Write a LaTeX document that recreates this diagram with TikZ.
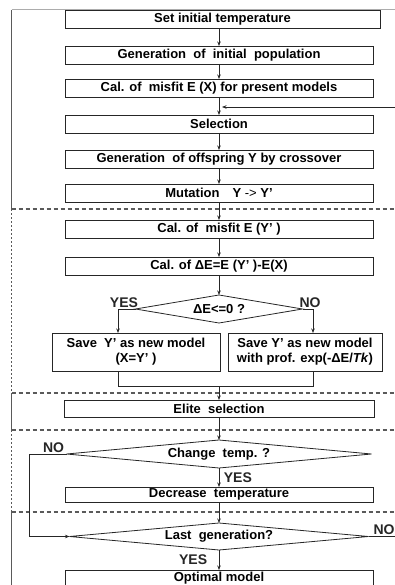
\documentclass[tikz,border=0pt]{standalone}
\usepackage{fontspec}
\setmainfont{Liberation Sans}
\usetikzlibrary{arrows.meta,positioning,shapes.geometric}
\definecolor{fcline}{HTML}{262626}
\definecolor{fcframe}{HTML}{5A5A5A}

\begin{document}
\begin{tikzpicture}[x=1pt,y=1pt,
  proc/.style={draw=fcline,line width=0.9pt,minimum width=308pt,minimum height=18pt,inner sep=0pt,
    outer sep=0pt,align=center,font=\fontsize{13}{15}\selectfont\bfseries},
  query/.style={diamond,draw=fcline,line width=0.8pt,aspect=10,inner sep=0pt,outer sep=0pt,
    minimum height=28pt,font=\fontsize{13}{15}\selectfont\bfseries},
  lbl/.style={font=\fontsize{14}{15}\selectfont\bfseries,inner sep=1.5pt},
  arr/.style={-{Stealth[length=4.5pt,width=3.5pt]},line width=0.7pt,fcline},
  wire/.style={line width=0.7pt,fcline},
  sep/.style={fcframe,line width=1.1pt,dash pattern=on 4pt off 3pt},
  rim/.style={fcframe,line width=1pt}]
  \path[use as bounding box,clip] (0,0) rectangle (395,-585);
  % outer frame and dashed blocks
  \draw[rim,fcframe!50] (11.5,-10) -- (395,-10);
  \draw[rim] (11.5,-10) -- (11.5,-209);
  \draw[rim,dash pattern=on 1.5pt off 2.5pt,line width=1.3pt] (11.5,-209) -- (11.5,-393);
  \draw[rim] (11.5,-393) -- (11.5,-430);
  \draw[rim,dash pattern=on 1.5pt off 2.5pt,line width=1.3pt] (11.5,-430) -- (11.5,-512);
  \draw[rim] (11.5,-512) -- (11.5,-585);
  \draw[sep] (11.5,-209) -- (395,-209);
  \draw[sep] (11.5,-393) -- (395,-393);
  \draw[sep] (11.5,-430) -- (395,-430);
  \draw[sep] (11.5,-512) -- (395,-512);
  % main chain
  \node[proc,minimum width=315pt] (settemp) at (222.5,-19.5) {Set initial temperature};
  \node[proc,below=17.5pt of settemp,xshift=-3.5pt] (initpop) {Generation\ \ of\ \ initial\ \ population};
  \node[proc,below=15pt of initpop] (misfitx) {Cal. of\ \ misfit E (X) for present models};
  \node[proc,below=18pt of misfitx] (select) {Selection};
  \node[proc,below=17pt of select] (cross) {Generation\ \ of offspring Y by crossover};
  \node[proc,below=16pt of cross] (mutate) {Mutation\quad Y {\mdseries->} Y’};
  \node[proc,below=18pt of mutate] (misfity) {Cal. of\ \ misfit E (Y’ )};
  \node[proc,below=19pt of misfity] (deltae) {Cal. of ΔE=E (Y’ )-E(X)};
  \node[query,below=20pt of deltae,minimum width=167pt] (accept) {ΔE<=0 ?};
  \node[proc,below=10pt of accept,xshift=-83pt,minimum width=168pt,minimum height=38pt] (savey)
    {Save\ \ Y’ as new model\\(X=Y’ )};
  \node[proc,below=10pt of accept,xshift=86pt,minimum width=154pt,minimum height=38pt] (saveexp)
    {Save Y’ as new model\\with prof. exp(-ΔE/\textit{Tk})};
  \node[proc,below=29pt of savey,xshift=83pt,minimum width=310pt,minimum height=17pt] (elite)
    {Elite\ \ selection};
  \node[query,below=23pt of elite,minimum width=305pt] (chtemp) {Change\ \ temp. ?};
  \node[proc,below=19pt of chtemp,minimum height=15pt] (dectemp) {Decrease\ \ temperature};
  \node[query,below=21pt of dectemp,minimum width=299pt,minimum height=27pt] (lastgen)
    {Last\ \ generation?};
  \node[proc,below=20pt of lastgen,minimum height=16pt] (optimal) {Optimal model};
  \coordinate[below=10pt of misfitx.south] (fb);
  % connectors
  \draw[arr] (settemp.south -| initpop.north) -- (initpop.north);
  \draw[arr] (initpop) -- (misfitx);
  \draw[arr] (misfitx) -- (select);
  \draw[arr] (select) -- (cross);
  \draw[arr] (cross) -- (mutate);
  \draw[arr] (mutate) -- (misfity);
  \draw[arr] (misfity) -- (deltae);
  \draw[arr] (deltae) -- (accept);
  \draw[arr] (accept.west) -| node[lbl,above,pos=0.33]{YES} ([xshift=-18pt]savey.north);
  \draw[arr] (accept.east) -| node[lbl,above,pos=0.36]{NO} ([xshift=8pt]saveexp.north);
  \draw[wire] ([xshift=-18pt]savey.south) -- ++(0,-15) coordinate (jl) -| ([xshift=8pt]saveexp.south);
  \draw[arr] (jl -| elite.north) -- (elite.north);
  \draw[arr] (elite) -- (chtemp);
  \draw[arr] (chtemp.south) -- node[lbl,right,xshift=3pt]{YES} (dectemp.north);
  \draw[arr] (chtemp.west) -- node[lbl,above,pos=0.35]{NO} ++(-37,0) |- (lastgen.west);
  \draw[arr] (dectemp) -- (lastgen);
  \draw[arr] (lastgen.south) -- node[lbl,left,xshift=-10pt]{YES} (optimal.north);
  \draw[arr] (lastgen.east) -- node[lbl,above,pos=0.5]{NO} ++(31,0) |- ([xshift=3pt]fb);
\end{tikzpicture}
\end{document}
